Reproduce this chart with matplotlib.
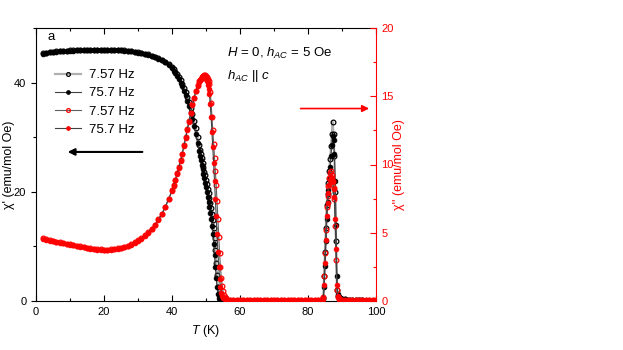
import numpy as np
import matplotlib
matplotlib.use('Agg')
import matplotlib.pyplot as plt
from matplotlib.ticker import MultipleLocator

plt.rcParams['font.family'] = ['Liberation Sans', 'DejaVu Sans']
plt.rcParams['mathtext.fontset'] = 'custom'
plt.rcParams['mathtext.rm'] = 'Liberation Sans'
plt.rcParams['mathtext.it'] = 'Liberation Sans:italic'

# temperature grid (K)
T_low = [2, 3, 4, 5, 6, 7, 8, 9, 10, 11,
         12, 13, 14, 15, 16, 17, 18, 19, 20, 21,
         22, 23, 24, 25, 26, 27, 28, 29, 30, 31,
         32, 33, 34, 35, 36, 37, 38, 39, 40]
T_rise = [40.5, 41, 41.5, 42, 42.5, 43, 43.5, 44,
          44.5, 45, 45.5, 46, 46.5, 47, 47.5, 48]
T_drop = [48.25, 48.5, 48.75, 49, 49.25, 49.5, 49.75, 50,
          50.25, 50.5, 50.75, 51, 51.25, 51.5, 51.75, 52,
          52.25, 52.5, 52.75, 53, 53.25, 53.5, 53.75, 54,
          54.25, 54.5, 54.75, 55, 55.25, 55.5, 55.75, 56]
T_flat = [57, 58, 59, 60, 61, 62, 63, 64, 65, 66, 67, 68, 69, 70,
          71, 72, 73, 74, 75, 76, 77, 78, 79, 80, 81, 82, 83, 84]
T_peak = [84.25, 84.5, 84.75, 85.0, 85.25, 85.5, 85.75, 86.0, 86.25, 86.5,
          86.75, 87.0, 87.25, 87.5, 87.75, 88.0, 88.25, 88.5, 88.75, 89.0]
T_tail = [89.5, 90, 91, 92, 93, 94, 95, 96, 97, 98, 99, 100]

# chi' (left axis), 7.57 Hz
chi1_757_low = [45.4, 45.5, 45.6, 45.65, 45.7, 45.75, 45.8, 45.85, 45.9, 45.9,
                45.95, 46.0, 46.0, 46.0, 46.05, 46.05, 46.05, 46.05, 46.05, 46.05,
                46.0, 46.0, 46.0, 45.95, 45.9, 45.85, 45.75, 45.65, 45.55, 45.45,
                45.3, 45.15, 44.95, 44.75, 44.5, 44.2, 43.85, 43.4, 42.9]
chi1_757_rise = [42.5, 42.0, 41.5, 41.0, 40.4, 39.7, 39.0, 38.2,
                 37.3, 36.4, 35.3, 34.2, 33.0, 31.6, 30.1, 28.5]
chi1_757_drop = [27.7, 26.9, 26.1, 25.3, 24.5, 23.7, 23.0, 22.2,
                 21.4, 20.5, 19.7, 18.8, 17.9, 17.0, 16.0, 14.8,
                 13.3, 11.5, 9.3, 7.0, 4.7, 2.5, 1.2, 0.5,
                 0.25, 0.15, 0.12, 0.1, 0.08, 0.05, 0.05, 0.05]
chi1_757_peak = [0.2, 0.5, 4.5, 9.0, 13.3, 17.5, 19.6, 21.7, 23.9, 26.0,
                 28.4, 30.6, 32.8, 30.5, 26.5, 20.0, 11.0, 2.0, 1.0, 0.7]
chi1_757_tail = [0.5, 0.4, 0.3, 0.22, 0.17, 0.14, 0.12, 0.1, 0.08, 0.07, 0.06, 0.05]

# chi' (left axis), 75.7 Hz
chi1_75_low = [45.3, 45.45, 45.55, 45.6, 45.65, 45.7, 45.75, 45.8, 45.85, 45.85,
               45.9, 45.95, 45.95, 45.95, 46.0, 46.0, 46.0, 46.0, 46.0, 46.0,
               45.95, 45.95, 45.9, 45.9, 45.85, 45.8, 45.7, 45.6, 45.5, 45.4,
               45.25, 45.1, 44.9, 44.65, 44.4, 44.1, 43.7, 43.25, 42.7]
chi1_75_rise = [42.2, 41.7, 41.2, 40.6, 40.0, 39.3, 38.5, 37.7,
                36.7, 35.7, 34.6, 33.4, 32.1, 30.6, 29.0, 27.4]
chi1_75_drop = [26.6, 25.8, 25.0, 24.1, 23.3, 22.5, 21.7, 20.8,
                19.9, 19.0, 18.1, 17.2, 16.2, 15.0, 13.7, 12.2,
                10.5, 8.5, 6.3, 4.2, 2.5, 1.2, 0.6, 0.3,
                0.15, 0.1, 0.08, 0.05, 0.05, 0.05, 0.05, 0.05]
chi1_75_peak = [0.1, 0.3, 2.5, 6.5, 11.0, 15.0, 18.2, 20.3, 22.4, 24.5,
                26.6, 28.6, 30.2, 29.5, 27.0, 22.0, 14.0, 4.5, 1.3, 0.8]
chi1_75_tail = [0.55, 0.45, 0.32, 0.24, 0.18, 0.15, 0.12, 0.1, 0.09, 0.08, 0.07, 0.06]

chi1_flat = [0.04] * 28

# chi'' (right axis), 7.57 Hz
chi2_757_low = [4.6, 4.52, 4.46, 4.4, 4.35, 4.3, 4.25, 4.2, 4.15, 4.1,
                4.05, 4.0, 3.95, 3.9, 3.86, 3.82, 3.8, 3.78, 3.76, 3.76,
                3.78, 3.8, 3.85, 3.9, 3.96, 4.05, 4.15, 4.3, 4.45, 4.6,
                4.8, 5.05, 5.3, 5.6, 6.0, 6.4, 6.9, 7.5, 8.1]
chi2_757_rise = [8.5, 8.9, 9.35, 9.8, 10.3, 10.8, 11.4, 12.0,
                 12.6, 13.2, 13.8, 14.4, 14.9, 15.4, 15.8, 16.1]
chi2_757_drop = [16.2, 16.3, 16.4, 16.45, 16.5, 16.55, 16.55, 16.5,
                 16.4, 16.3, 16.1, 15.9, 15.3, 14.5, 13.5, 12.5,
                 11.5, 10.5, 9.5, 8.5, 7.3, 6.0, 4.7, 3.5,
                 2.5, 1.7, 1.1, 0.7, 0.45, 0.3, 0.2, 0.15]
chi2_757_peak = [0.1, 0.3, 1.8, 3.5, 5.2, 6.9, 7.7, 8.4, 9.0, 9.4,
                 9.5, 9.2, 8.8, 8.3, 7.5, 5.5, 3.0, 0.8, 0.3, 0.15]

# chi'' (right axis), 75.7 Hz
chi2_75_low = [4.55, 4.48, 4.42, 4.37, 4.32, 4.27, 4.22, 4.17, 4.12, 4.07,
               4.02, 3.97, 3.92, 3.87, 3.83, 3.8, 3.77, 3.75, 3.74, 3.74,
               3.76, 3.79, 3.83, 3.88, 3.94, 4.02, 4.12, 4.26, 4.41, 4.57,
               4.76, 5.0, 5.26, 5.56, 5.95, 6.35, 6.85, 7.45, 8.05]
chi2_75_rise = [8.45, 8.85, 9.3, 9.75, 10.25, 10.75, 11.35, 11.95,
                12.55, 13.15, 13.75, 14.35, 14.85, 15.35, 15.75, 16.05]
chi2_75_drop = [16.2, 16.3, 16.4, 16.45, 16.5, 16.5, 16.4, 16.3,
                16.1, 15.8, 15.5, 15.2, 14.4, 13.5, 12.4, 11.3,
                10.1, 8.8, 7.5, 6.2, 4.9, 3.6, 2.5, 1.6,
                1.0, 0.6, 0.4, 0.25, 0.2, 0.15, 0.12, 0.1]
chi2_75_peak = [0.08, 0.2, 1.2, 2.8, 4.5, 6.2, 7.2, 7.9, 8.5, 8.9,
                9.1, 9.0, 8.7, 8.2, 7.6, 6.0, 3.8, 1.2, 0.4, 0.2]

chi2_flat = [0.06] * 28
chi2_tail = [0.1, 0.08, 0.07, 0.06, 0.06, 0.05, 0.05, 0.05, 0.05, 0.05, 0.05, 0.05]

T = np.array(T_low + T_rise + T_drop + T_flat + T_peak + T_tail)
chi1_757 = np.array(chi1_757_low + chi1_757_rise + chi1_757_drop + chi1_flat
                    + chi1_757_peak + chi1_757_tail)
chi1_75 = np.array(chi1_75_low + chi1_75_rise + chi1_75_drop + chi1_flat
                   + chi1_75_peak + chi1_75_tail)
chi2_757 = np.array(chi2_757_low + chi2_757_rise + chi2_757_drop + chi2_flat
                    + chi2_757_peak + chi2_tail)
chi2_75 = np.array(chi2_75_low + chi2_75_rise + chi2_75_drop + chi2_flat
                   + chi2_75_peak + chi2_tail)

fig = plt.figure(figsize=(6.23, 3.5), dpi=100)
ax = fig.add_axes([36 / 623, 49 / 350, 340 / 623, 273 / 350])
ax2 = ax.twinx()

ms = 3.4
l1, = ax.plot(T, chi1_757, color='#b0b0b0', lw=1.6, marker='o', ms=ms,
              mfc='none', mec='black', mew=0.9, label='7.57 Hz')
l2, = ax.plot(T, chi1_75, color='#404040', lw=0.8, marker='o', ms=ms,
              mfc='black', mec='black', mew=0.6, label='75.7 Hz')
l3, = ax2.plot(T, chi2_757, color='#606060', lw=0.8, marker='o', ms=ms,
               mfc='none', mec='red', mew=0.9, label='7.57 Hz')
l4, = ax2.plot(T, chi2_75, color='#404040', lw=0.8, marker='o', ms=ms,
               mfc='red', mec='red', mew=0.6, label='75.7 Hz')

ax.set_xlim(0, 100)
ax.set_ylim(0, 50)
ax2.set_ylim(0, 20)

ax.xaxis.set_major_locator(MultipleLocator(20))
ax.xaxis.set_minor_locator(MultipleLocator(10))
ax.yaxis.set_major_locator(MultipleLocator(20))
ax.yaxis.set_minor_locator(MultipleLocator(10))
ax2.yaxis.set_major_locator(MultipleLocator(5))
ax2.yaxis.set_minor_locator(MultipleLocator(2.5))

ax.tick_params(axis='x', which='both', direction='in', top=True, labelsize=8, pad=4)
ax.tick_params(axis='x', which='major', length=4, width=0.8)
ax.tick_params(axis='x', which='minor', length=2.5, width=0.8)
ax.tick_params(axis='y', which='both', direction='out', labelsize=8, width=0.8)
ax.tick_params(axis='y', which='major', length=3.5)
ax.tick_params(axis='y', which='minor', length=2.5)
ax2.tick_params(axis='y', which='both', direction='in', colors='red', labelsize=8,
                width=0.8, pad=4)
ax2.tick_params(axis='y', which='major', length=4)
ax2.tick_params(axis='y', which='minor', length=2.5)

for s in ['left', 'bottom', 'top']:
    ax.spines[s].set_linewidth(0.8)
ax.spines['right'].set_visible(False)
ax2.spines['right'].set_color('red')
ax2.spines['right'].set_linewidth(0.8)
for s in ['left', 'bottom', 'top']:
    ax2.spines[s].set_visible(False)

ax.set_xlabel(r'$T$ (K)', fontsize=9)
ax.set_ylabel("\u03c7' (emu/mol Oe)", fontsize=9)
ax2.set_ylabel("\u03c7'' (emu/mol Oe)", fontsize=9, color='red')
ax.xaxis.set_label_coords(0.5, -0.08)
ax.yaxis.set_label_coords(-0.063, 0.5)
ax2.yaxis.set_label_coords(1.05, 0.5)

ax.text(3.5, 48.3, 'a', fontsize=9.5, va='center', ha='left')
ax.text(56.3, 45.4, r'$H$ = 0, $h_{AC}$ = 5 Oe', fontsize=9.5, va='center', ha='left')
ax.text(56.3, 41.2, r'$h_{AC}$ || $c$', fontsize=9.5, va='center', ha='left')

ax.annotate('', xy=(8.5, 27.3), xytext=(32.1, 27.3),
            arrowprops=dict(arrowstyle='-|>', color='black', lw=1.5, mutation_scale=10))
ax2.annotate('', xy=(98.8, 14.1), xytext=(77.0, 14.1),
             arrowprops=dict(arrowstyle='-|>', color='red', lw=1.2, mutation_scale=10))

ax2.legend(handles=[l1, l2, l3, l4], loc='upper left', bbox_to_anchor=(0.055, 0.85),
           frameon=False, fontsize=9.5, handlelength=2.0, handletextpad=0.6,
           labelspacing=0.45, borderpad=0, borderaxespad=0, markerscale=0.8)

fig.savefig('out.png', dpi=100)
